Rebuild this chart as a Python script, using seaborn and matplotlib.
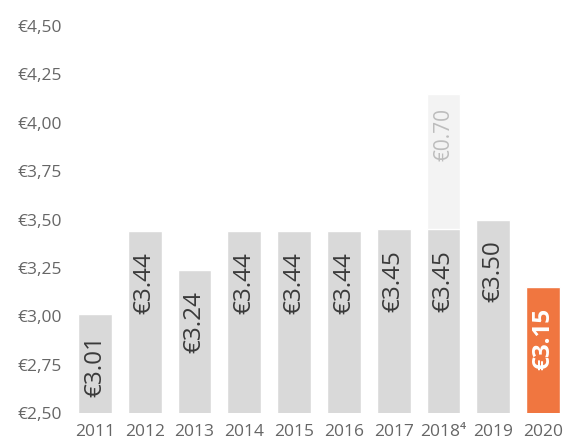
import matplotlib
matplotlib.use("Agg")
import matplotlib.pyplot as plt
import numpy as np
import pandas as pd
import seaborn as sns

# Dividend per share by year, plus the 2018 special dividend
years = ["2011", "2012", "2013", "2014", "2015", "2016", "2017", "2018\u2074", "2019", "2020"]
dividend = [3.01, 3.44, 3.24, 3.44, 3.44, 3.44, 3.45, 3.45, 3.50, 3.15]
special = [0, 0, 0, 0, 0, 0, 0, 0.70, 0, 0]
y_ticks = [2.50, 2.75, 3.00, 3.25, 3.50, 3.75, 4.00, 4.25, 4.50]

GREY = "#d9d9d9"
LIGHT = "#f3f3f3"
ORANGE = "#f07640"
TEXT = "#666666"

sns.set_theme(style="white")
plt.rcParams["font.family"] = ["Open Sans", "DejaVu Sans"]

df = pd.DataFrame({
    "year": years,
    "dividend": dividend,
    "special": special,
})
df["total"] = df["dividend"] + df["special"]

fig = plt.figure(figsize=(5.68, 4.42), dpi=100)
ax = fig.add_axes([70 / 568, 29 / 442, 498 / 568, 387 / 442])

# stacked: total first (light), regular dividend over it
sns.barplot(data=df, x="year", y="total", color=LIGHT, width=0.68,
            saturation=1, ax=ax)
bar_colors = [ORANGE if y == "2020" else GREY for y in years]
sns.barplot(data=df, x="year", y="dividend", hue="year", palette=bar_colors,
            width=0.68, saturation=1, legend=False, ax=ax)

ax.set_ylim(2.5, 4.5)
ax.set_xlim(-0.5, 9.5)
ax.set_yticks(y_ticks)
ax.set_yticklabels(["\u20ac" + f"{v:.2f}".replace(".", ",") for v in y_ticks])
ax.set_xlabel("")
ax.set_ylabel("")
ax.tick_params(axis="both", length=0, colors=TEXT, labelsize=12.5)
ax.tick_params(axis="y", pad=5.5)
ax.tick_params(axis="x", pad=8)
for s in ax.spines.values():
    s.set_visible(False)

# value labels inside the bars
for i, (y, d, sp) in enumerate(zip(years, dividend, special)):
    is_last = y == "2020"
    ax.annotate(f"\u20ac{d:.2f}", (i, d), xytext=(0, -15), textcoords="offset points",
                rotation=90, ha="center", va="top",
                fontsize=17.5, color="white" if is_last else "#3a3a3a",
                fontweight="bold" if is_last else "normal")
    if sp > 0:
        ax.annotate(f"\u20ac{sp:.2f}", (i, d + sp), xytext=(0, -10),
                    textcoords="offset points", rotation=90, ha="center",
                    va="top", fontsize=15, color="#bdbdbd")

fig.savefig("out.png", dpi=100, facecolor="white")
